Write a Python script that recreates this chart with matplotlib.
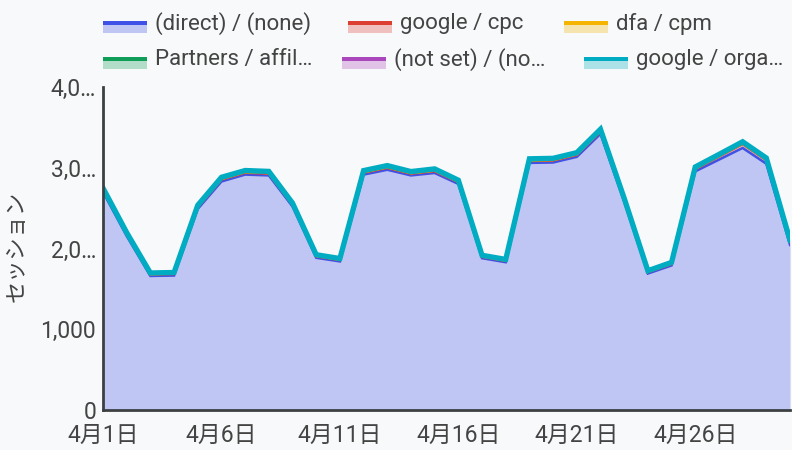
import numpy as np
import matplotlib.pyplot as plt
from matplotlib.patches import Rectangle

plt.rcParams['font.family'] = ['Roboto', 'Noto Sans CJK JP', 'DejaVu Sans']

# sessions per day, April 1..30, by source / medium
days = list(range(1, 31))
direct = [2700, 2155, 1660, 1665, 2490, 2830, 2915, 2905, 2520, 1885,
          1840, 2915, 2975, 2905, 2935, 2800, 1880, 1830, 3060, 3065,
          3135, 3420, 2580, 1690, 1790, 2955, 3100, 3245, 3050, 2045]
cpc = [22, 20, 18, 19, 21, 24, 23, 22, 20, 18, 17, 23, 24, 22, 23,
       21, 17, 16, 24, 25, 24, 26, 21, 17, 18, 28, 38, 48, 44, 36]
dfa = [7, 6, 5, 5, 6, 7, 8, 7, 6, 5, 5, 7, 7, 6, 7,
       6, 5, 5, 6, 7, 7, 8, 6, 5, 5, 7, 7, 8, 7, 6]
partners = [5, 4, 4, 3, 5, 5, 5, 5, 4, 4, 3, 5, 5, 5, 5,
            5, 4, 3, 5, 5, 5, 6, 4, 3, 4, 5, 5, 5, 5, 4]
notset = [3, 2, 2, 2, 3, 3, 3, 3, 2, 2, 2, 3, 3, 3, 3,
          3, 2, 2, 3, 3, 3, 3, 2, 2, 2, 3, 3, 3, 3, 2]
organic = [12, 10, 8, 9, 11, 13, 12, 13, 11, 9, 9, 12, 13, 12, 13,
           11, 8, 9, 13, 12, 13, 14, 10, 8, 9, 12, 12, 13, 12, 10]

labels = ['(direct) / (none)', 'google / cpc', 'dfa / cpm',
          'Partners / affil…', '(not set) / (no…', 'google / orga…']
colors = ['#3f51e6', '#dc3e31', '#f4b400', '#0f9d58', '#ab47bc', '#00acc1']
xtick_days = [1, 6, 11, 16, 21, 26]
xtick_labels = ['4月1日', '4月6日', '4月11日', '4月16日', '4月21日', '4月26日']
yticks = [0, 1000, 2000, 3000, 4000]
ytick_labels = ['0', '1,000', '2,0…', '3,0…', '4,0…']

BG = '#f8f9fa'
TXT = '#444444'
AX = '#3c4043'

W, H = 792, 450
fig = plt.figure(figsize=(W / 100, H / 100), dpi=100, facecolor=BG)
ax = fig.add_axes([103 / W, 1 - 410 / H, 687 / W, 323 / H])
ax.set_facecolor(BG)

series = [direct, cpc, dfa, partners, notset, organic]
stack = np.cumsum(np.array(series, dtype=float), axis=0)
lower = np.zeros(len(days))
for i, top in enumerate(stack):
    ax.fill_between(days, lower, top, color=colors[i], alpha=0.3, lw=0)
    lower = top
for i, top in enumerate(stack):
    lw = 3.8 if i == len(stack) - 1 else 1.8
    ax.plot(days, top, color=colors[i], lw=lw, solid_joinstyle='miter', zorder=3 + i)

ax.set_xlim(1, 30)
ax.set_ylim(0, 4000)
ax.set_xticks(xtick_days)
ax.set_xticklabels(xtick_labels)
ax.set_yticks(yticks)
ax.set_yticklabels(ytick_labels)
ax.tick_params(length=0, labelsize=16.5, labelcolor=TXT)
ax.tick_params(axis='y', pad=5)
ax.tick_params(axis='x', pad=10)
for s in ['top', 'right']:
    ax.spines[s].set_visible(False)
for s in ['left', 'bottom']:
    ax.spines[s].set_color(AX)
    ax.spines[s].set_linewidth(2)
    ax.spines[s].set_zorder(10)

fig.text(17 / W, 1 - 246 / H, 'セッション', rotation=90, ha='center', va='center',
         fontsize=16, color=TXT)

# legend, two rows of three
item_x = [103, 348, 564, 103, 342, 584]
row_y = [21, 57]
for i, lab in enumerate(labels):
    x0 = item_x[i]
    y0 = row_y[i // 3]
    fig.patches.append(Rectangle((x0 / W, 1 - (y0 + 12) / H), 44 / W, 12 / H,
                                 transform=fig.transFigure, color=colors[i],
                                 alpha=0.3, lw=0))
    fig.patches.append(Rectangle((x0 / W, 1 - (y0 + 4) / H), 44 / W, 4 / H,
                                 transform=fig.transFigure, color=colors[i], lw=0))
    fig.text((x0 + 52) / W, 1 - (y0 + 3) / H, lab, ha='left', va='center',
             fontsize=16, color=TXT)

fig.savefig('out.png', dpi=100, facecolor=BG)
